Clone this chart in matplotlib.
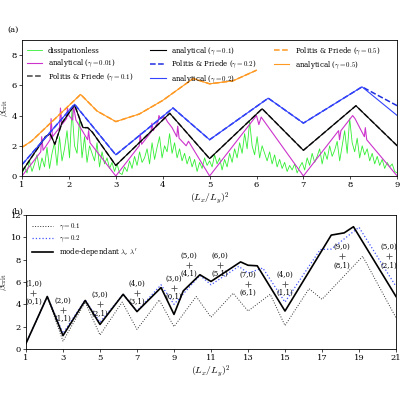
import numpy as np
import matplotlib.pyplot as plt

plt.rcParams["font.family"] = "DejaVu Serif"
plt.rcParams["mathtext.fontset"] = "cm"
plt.rcParams["font.size"] = 5.5

# ---- panel (a) data ----
green_y = [
    0.1, 0.6, 0.2, 1.0, 0.3, 0.8, 1.4, 0.4, 1.2, 0.6, 1.9, 0.5, 1.5, 2.2, 0.7, 2.6, 1.0, 1.8, 3.0, 1.2,
    4.4, 2.0, 1.5, 3.8, 1.2, 2.6, 0.9, 2.0, 1.5, 1.0, 2.2, 0.6, 1.6, 0.8, 1.2, 0.5, 0.9, 0.3, 0.8, 0.2,
    0.1, 0.6, 0.3, 1.0, 0.5, 1.3, 0.7, 1.6, 0.9, 1.2, 1.8, 0.8, 2.2, 1.1, 1.9, 2.6, 1.2, 2.0, 1.6, 2.8,
    1.5, 2.2, 1.2, 1.8, 1.0, 1.5, 0.8, 1.3, 0.6, 1.1, 0.3, 0.9, 0.5, 1.2, 0.7, 1.0, 0.6, 1.4, 0.8, 1.2,
    0.4, 1.1, 0.6, 1.5, 0.9, 1.8, 1.2, 2.2, 1.5, 2.8, 1.8, 3.6, 2.0, 1.4, 2.6, 1.2, 2.0, 1.5, 1.0, 1.6,
    0.8, 1.4, 0.6, 1.1, 0.5, 0.9, 0.3, 0.7, 0.4, 0.8, 0.2, 0.6, 0.9, 0.4, 1.2, 0.7, 1.5, 0.9, 1.3, 1.8,
    0.8, 1.6, 1.1, 2.0, 1.3, 1.7, 2.3, 1.0, 2.0, 3.0, 1.5, 3.8, 2.2, 1.6, 2.5, 1.2, 2.0, 1.4, 1.8, 1.0,
    1.5, 0.8, 1.3, 0.7, 1.1, 0.5, 0.9, 0.6, 0.8, 0.3, 0.2,
]
green_x = np.linspace(1, 9, len(green_y))
mag_x = [1, 1.4, 1.42, 1.45, 1.6, 1.62, 1.65, 1.8, 1.82, 1.85, 1.95, 1.97, 2.0, 2.08, 2.1, 2.15,
         2.4, 2.42, 2.45, 3, 3.5, 3.52, 3.55, 3.75, 3.77, 3.8, 3.9, 3.92, 3.95, 4.05, 4.1, 4.2, 4.3,
         4.32, 4.35, 4.5, 4.55, 5, 6, 6.05, 6.1, 7, 7.75, 7.77, 7.8, 8, 8.05, 8.1, 8.3, 8.32, 8.35, 9]
mag_y = [0, 1.6, 2.6, 1.7, 2.4, 3.8, 2.6, 3.2, 4.5, 3.4, 3.8, 4.5, 4.0, 3.7, 4.6, 3.7,
         2.4, 3.0, 2.2, 0, 2.0, 2.8, 2.1, 2.9, 3.5, 3.0, 3.6, 4.0, 3.8, 3.9, 3.6, 3.2, 2.6,
         3.3, 2.5, 2.0, 2.3, 0, 4.0, 3.4, 3.9, 0, 3.0, 2.4, 3.0, 3.8, 4.0, 3.8, 2.6, 3.2, 2.4, 0]
blk_x = [1, 1.5, 1.6, 1.7, 1.85, 2.12, 2.3, 2.4, 2.5, 3, 4.15, 5, 6.12, 7, 8.12, 9]
blk_y = [0.3, 2.6, 2.8, 2.1, 3.5, 4.7, 3.2, 3.2, 2.9, 0.7, 4.15, 1.15, 4.45, 1.7, 4.65, 2.0]
blu_x = [1, 2.12, 3, 4.22, 5, 6.25, 7, 8.25, 9]
blu_y = [0.75, 4.75, 1.4, 4.5, 2.4, 5.15, 3.5, 5.9, 4.0]
blu_dash_y = [0.75, 4.75, 1.4, 4.5, 2.4, 5.15, 3.5, 5.9, 4.65]
org_x = [1, 1.2, 2.25, 2.6, 3, 3.5, 4, 4.65, 5, 5.5, 6]
org_y = [1.9, 2.3, 5.4, 4.3, 3.6, 4.1, 5.0, 6.45, 6.1, 6.3, 7.0]

# ---- panel (b) data ----
g1_x = [1, 2.15, 3, 4.2, 5, 6.2, 7, 8.2, 9, 10.2, 11, 12.2, 13, 14.2, 15, 16.3, 17, 19.2, 21]
g1_y = [0.5, 4.7, 0.7, 4.2, 1.25, 4.2, 1.75, 4.4, 2.0, 4.7, 2.85, 5.0, 3.4, 4.9, 2.1, 5.4, 4.45, 8.3, 2.8]
g2_x = [1, 2.15, 3, 4.2, 5, 6.25, 7, 8.3, 9, 10.4, 11, 12.5, 13, 13.8, 15, 16.9, 17.5, 19, 21]
g2_y = [0.5, 4.7, 1.4, 4.4, 2.4, 4.9, 3.4, 5.75, 4.0, 6.6, 5.75, 7.4, 6.8, 7.25, 4.2, 8.9, 8.95, 10.9, 5.6]
md_x = [1, 2.15, 3, 4.2, 5, 6.25, 7, 8.3, 9, 9.5, 10.4, 11, 12.6, 13, 13.5, 15, 17.5, 18.2, 18.7, 21]
md_y = [0.5, 4.7, 1.2, 4.35, 2.2, 4.9, 3.35, 5.5, 3.1, 5.2, 6.65, 6.05, 7.8, 7.5, 7.45, 3.4, 10.2, 10.4, 10.95, 4.7]
ann_x = [1.4, 3.0, 5.0, 7.0, 9.0, 9.8, 11.5, 13.0, 15.0, 18.1, 20.6]
ann_y = [5.0, 3.5, 4.0, 5.0, 5.45, 7.5, 7.5, 5.8, 5.8, 8.3, 8.3]
ann_top = ["(1,0)", "(2,0)", "(3,0)", "(4,0)", "(3,0)", "(5,0)", "(6,0)", "(7,0)", "(4,0)", "(9,0)", "(5,0)"]
ann_bot = ["(0,1)", "(1,1)", "(2,1)", "(3,1)", "(0,1)", "(4,1)", "(5,1)", "(6,1)", "(1,1)", "(8,1)", "(2,1)"]

fig = plt.figure(figsize=(4, 4), dpi=100)
ax1 = fig.add_axes([0.055, 0.56, 0.938, 0.34])
ax2 = fig.add_axes([0.065, 0.1275, 0.925, 0.335])

ax1.plot(green_x, green_y, color="#33ee33", lw=0.6, label="dissipationless")
ax1.plot(mag_x, mag_y, color="#cc33cc", lw=0.8, label=r"analytical ($\gamma=0.01$)")
ax1.plot(blk_x, blk_y, "--", color="#444444", lw=1.1, label=r"Politis & Priede ($\gamma=0.1$)")
ax1.plot(blk_x, blk_y, color="black", lw=0.8, label=r"analytical ($\gamma=0.1$)")
ax1.plot(blu_x, blu_dash_y, "--", color="#1f2fe0", lw=1.1, label=r"Politis & Priede ($\gamma=0.2$)")
ax1.plot(blu_x, blu_y, color="#3344ff", lw=0.8, label=r"analytical ($\gamma=0.2$)")
ax1.plot(org_x, org_y, "--", color="#ff9922", lw=1.1, label=r"Politis & Priede ($\gamma=0.5$)")
ax1.plot(org_x, org_y, color="#ff9922", lw=0.8, label=r"analytical ($\gamma=0.5$)")
ax1.set_xlim(1, 9)
ax1.set_ylim(0, 9)
ax1.set_yticks([0, 2, 4, 6, 8])
ax1.set_xlabel(r"$(L_x/L_y)^2$", fontsize=7, labelpad=1)
ax1.set_ylabel(r"$\beta_{\rm crit}$", fontsize=7, labelpad=1)
ax1.legend(loc="upper left", ncol=3, frameon=False, fontsize=5, handlelength=2.2,
           columnspacing=2.5, labelspacing=0.3, borderaxespad=0.3)
ax1.text(-0.04, 1.06, "(a)", transform=ax1.transAxes, fontsize=6)

ax2.plot(g1_x, g1_y, ":", color="#333333", lw=0.7, label=r"$\gamma=0.1$")
ax2.plot(g2_x, g2_y, ":", color="#4455ff", lw=0.9, label=r"$\gamma=0.2$")
ax2.plot(md_x, md_y, color="black", lw=1.2, label=r"mode-dependant $\lambda$, $\lambda'$")
for x, y, t, b in zip(ann_x, ann_y, ann_top, ann_bot):
    ax2.plot(x, y, "+", color="#555555", ms=4, mew=0.6)
    ax2.text(x, y + 0.45, t, ha="center", va="bottom", fontsize=5)
    ax2.text(x, y - 0.45, b, ha="center", va="top", fontsize=5)
ax2.set_xlim(1, 21)
ax2.set_ylim(0, 12)
ax2.set_xticks(range(1, 22, 2))
ax2.set_yticks(range(0, 13, 2))
ax2.set_xlabel(r"$(L_x/L_y)^2$", fontsize=7, labelpad=1)
ax2.set_ylabel(r"$\beta_{\rm crit}$", fontsize=7, labelpad=1)
ax2.legend(loc="upper left", frameon=False, fontsize=5, handlelength=3, labelspacing=0.3)
ax2.text(-0.04, 1.01, "(b)", transform=ax2.transAxes, fontsize=6)

for ax in (ax1, ax2):
    ax.tick_params(labelsize=6, length=2, width=0.5, pad=1.5)
    for s in ax.spines.values():
        s.set_linewidth(0.6)

fig.savefig("out.png", dpi=100)
